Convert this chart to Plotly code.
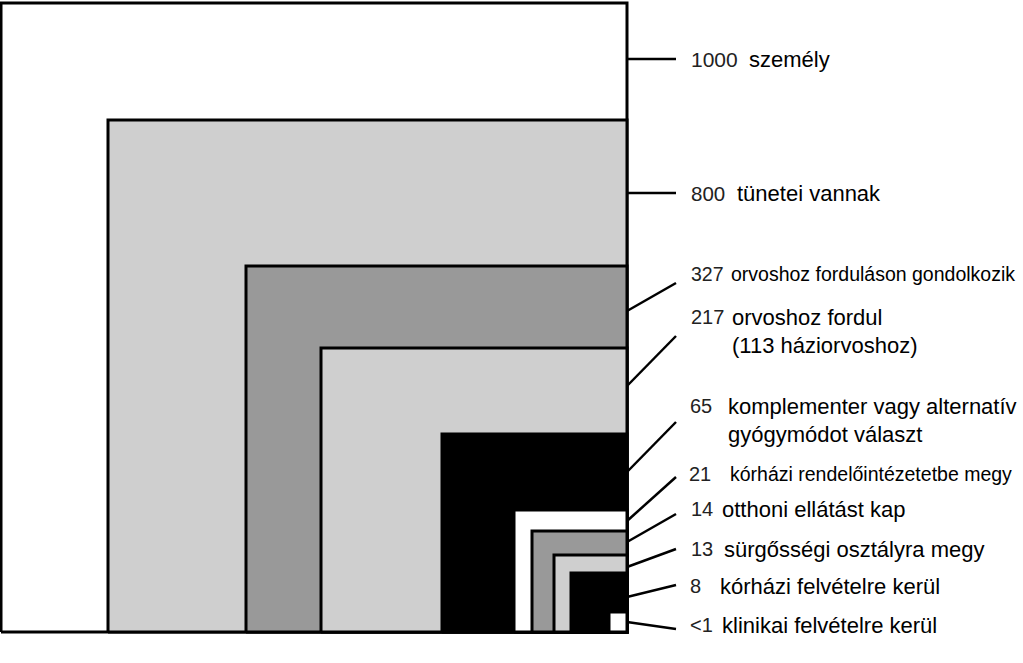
import plotly.graph_objects as go

# ---- data ----
counts = ["1000", "800", "327", "217", "65", "21", "14", "13", "8", "<1"]
descriptions = [
    ["személy"],
    ["tünetei vannak"],
    ["orvoshoz forduláson gondolkozik"],
    ["orvoshoz fordul", "(113 háziorvoshoz)"],
    ["komplementer vagy alternatív", "gyógymódot választ"],
    ["kórházi rendelőintézetetbe megy"],
    ["otthoni ellátást kap"],
    ["sürgősségi osztályra megy"],
    ["kórházi felvételre kerül"],
    ["klinikai felvételre kerül"],
]
# rectangle sizes (illustrative, in drawing units) anchored at bottom-right corner
rect_width = [626, 519, 381, 306, 185, 113, 95, 73, 56, 18]
rect_height = [629, 512, 366, 284, 198, 122, 101, 77, 59, 20]

# ---- layout / style ----
fills = ["#ffffff", "#cfcfcf", "#999999", "#cfcfcf", "#000000",
         "#ffffff", "#999999", "#cfcfcf", "#000000", "#ffffff"]
RIGHT_PX, BOTTOM_PX = 627, 632
W, H = 1023, 663

def dx(px):
    return px - RIGHT_PX

def dy(py):
    return BOTTOM_PX - py

# leader line start (on right edge) and end y, in pixel rows
leader_start = [59, 193, 311, 386, 472, 521, 542, 567, 597, 622]
leader_end = [59, 193, 283, 336, 422, 477, 514, 549, 585, 629]
leader_end_x = 676
# label positions (pixel rows of first line centre) and description x
label_y = [59, 193, 274, 317, 406, 474, 509, 549, 586, 625]
num_x = [689, 689, 689, 689, 688, 687, 689, 689, 688, 688]
desc_x = [747, 735, 729, 730, 726, 728, 720, 722, 718, 720]
desc_size = [22, 22, 19.5, 22, 22, 19.5, 22, 22, 22, 22]
num_size = [21, 20.5, 19.5, 20, 20, 20, 20, 20, 20, 20]
line_gap = 28

fig = go.Figure()

for w, h, c in zip(rect_width, rect_height, fills):
    fig.add_trace(go.Scatter(
        x=[-w, 0, 0, -w, -w], y=[0, 0, h, h, 0],
        mode="lines", fill="toself", fillcolor=c,
        line=dict(color="#000000", width=3),
        hoverinfo="skip", showlegend=False))

for s, e in zip(leader_start, leader_end):
    fig.add_trace(go.Scatter(
        x=[dx(RIGHT_PX), dx(leader_end_x)], y=[dy(s), dy(e)],
        mode="lines", line=dict(color="#000000", width=2.5),
        hoverinfo="skip", showlegend=False))

annotations = []
for i, (n, lines) in enumerate(zip(counts, descriptions)):
    annotations.append(dict(
        x=dx(num_x[i]), y=dy(label_y[i]), xref="x", yref="y",
        text=n, showarrow=False, xanchor="left", yanchor="middle", align="left",
        font=dict(family="Liberation Sans, Arial, sans-serif",
                  size=num_size[i], color="#222222")))
    for j, t in enumerate(lines):
        annotations.append(dict(
            x=dx(desc_x[i]), y=dy(label_y[i] + j * line_gap), xref="x", yref="y",
            text=t, showarrow=False, xanchor="left", yanchor="middle", align="left",
            font=dict(family="Liberation Sans, Arial, sans-serif",
                      size=desc_size[i], color="#000000")))

fig.update_layout(
    width=W, height=H,
    margin=dict(l=0, r=0, t=0, b=0),
    paper_bgcolor="white", plot_bgcolor="white",
    xaxis=dict(range=[dx(0), dx(W)], visible=False, fixedrange=True),
    yaxis=dict(range=[dy(H), dy(0)], visible=False, fixedrange=True),
    annotations=annotations,
    showlegend=False,
)

fig.write_html("out.html", config={"displayModeBar": False},
               post_script="document.body.style.margin='0';document.body.style.overflow='hidden';")
